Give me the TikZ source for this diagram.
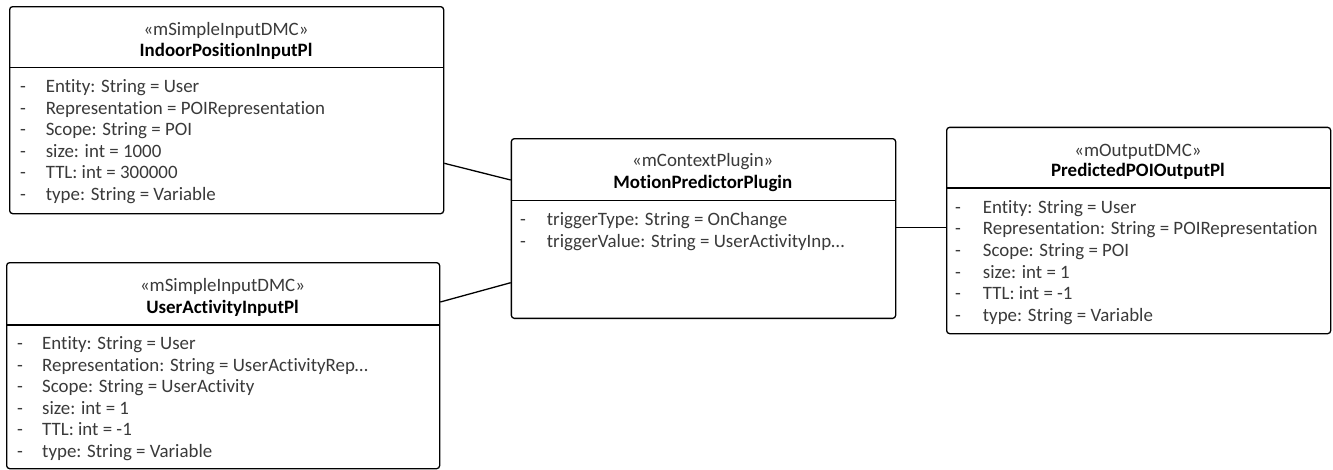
\documentclass[tikz,border=0pt]{standalone}
\usepackage{fontspec}
\setmainfont{Carlito}[Ligatures=NoCommon]
\definecolor{attrgray}{HTML}{3A3A3A}
\begin{document}
\begin{tikzpicture}[x=1pt,y=-1pt,
  umlbox/.style={draw=black, line width=1.3pt, rounded corners=3pt, fill=white,
    anchor=north west, inner sep=0pt},
  divider/.style={draw=black, line width=1.3pt},
  stereo/.style={anchor=base, inner sep=0pt, text=attrgray, font=\fontsize{18.9}{21.6}\selectfont},
  cname/.style={anchor=base, inner sep=0pt, text=black, font=\fontsize{18.9}{21.6}\selectfont\bfseries},
  attr/.style={anchor=base west, inner sep=0pt, text=attrgray, font=\fontsize{18.9}{21.6}\selectfont},
  link/.style={draw=black, line width=1.3pt}
]
\useasboundingbox (0,0) rectangle (1333,469);

% ---------- IndoorPositionInputPl ----------
\node[umlbox, minimum width=434pt, minimum height=207pt] (A) at (9,6) {};
\draw[divider] (A.west |- 0,67.7) -- (A.east |- 0,67.7);
\node[stereo] (A-st) at (226,35.5) {«mSimpleInputDMC»};
\node[cname]  (A-nm) at (226,56) {IndoorPositionInputPl};
\foreach \t [count=\i] in {{Entity: String = User},
    {Representation = POIRepresentation},
    {Scope: String = POI},
    {size: int = 1000},
    {TTL: int = 300000},
    {type: String = Variable}}{
  \node[attr] (A-d\i) at (20,92.5+21.6*\i-21.6) {-};
  \node[attr] (A-a\i) at (45.6,92.5+21.6*\i-21.6) {\t};
}

% ---------- UserActivityInputPl ----------
\node[umlbox, minimum width=433pt, minimum height=206pt] (B) at (6,262) {};
\draw[divider] (B.west |- 0,325) -- (B.east |- 0,325);
\node[stereo] (B-st) at (222.5,291.5) {«mSimpleInputDMC»};
\node[cname]  (B-nm) at (222.5,313) {UserActivityInputPl};
\foreach \t [count=\i] in {{Entity: String = User},
    {Representation: String = UserActivityRep…},
    {Scope: String = UserActivity},
    {size: int = 1},
    {TTL: int = -1},
    {type: String = Variable}}{
  \node[attr] (B-d\i) at (17,349.5+21.6*\i-21.6) {-};
  \node[attr] (B-a\i) at (42,349.5+21.6*\i-21.6) {\t};
}

% ---------- MotionPredictorPlugin ----------
\node[umlbox, minimum width=384.3pt, minimum height=179.7pt] (C) at (510.7,138) {};
\draw[divider] (C.west |- 0,200.7) -- (C.east |- 0,200.7);
\node[stereo] (C-st) at (702.8,166.5) {«mContextPlugin»};
\node[cname]  (C-nm) at (702.8,188) {MotionPredictorPlugin};
\foreach \t [count=\i] in {{triggerType: String = OnChange},
    {triggerValue: String = UserActivityInp…}}{
  \node[attr] (C-d\i) at (520,225.5+21.6*\i-21.6) {-};
  \node[attr] (C-a\i) at (546.7,225.5+21.6*\i-21.6) {\t};
}

% ---------- PredictedPOIOutputPl ----------
\node[umlbox, minimum width=384pt, minimum height=206.3pt] (D) at (946,126.7) {};
\draw[divider] (D.west |- 0,188) -- (D.east |- 0,188);
\node[stereo] (D-st) at (1138,156.5) {«mOutputDMC»};
\node[cname]  (D-nm) at (1138,176.5) {PredictedPOIOutputPl};
\foreach \t [count=\i] in {{Entity: String = User},
    {Representation: String = POIRepresentation},
    {Scope: String = POI},
    {size: int = 1},
    {TTL: int = -1},
    {type: String = Variable}}{
  \node[attr] (D-d\i) at (955,213.2+21.6*\i-21.6) {-};
  \node[attr] (D-a\i) at (982.7,213.2+21.6*\i-21.6) {\t};
}

% ---------- associations ----------
\coordinate (A-out) at (A.east |- 0,163.3);
\coordinate (C-in1) at (C.west |- 0,180);
\coordinate (B-out) at (B.east |- 0,302);
\coordinate (C-in2) at (C.west |- 0,282.7);
\coordinate (C-out) at (C.east |- 0,227.7);
\coordinate (D-in)  at (D.west |- 0,227.7);
\draw[link] (A-out) -- (C-in1);
\draw[link] (B-out) -- (C-in2);
\draw[link] (C-out) -- (D-in);
\end{tikzpicture}
\end{document}
